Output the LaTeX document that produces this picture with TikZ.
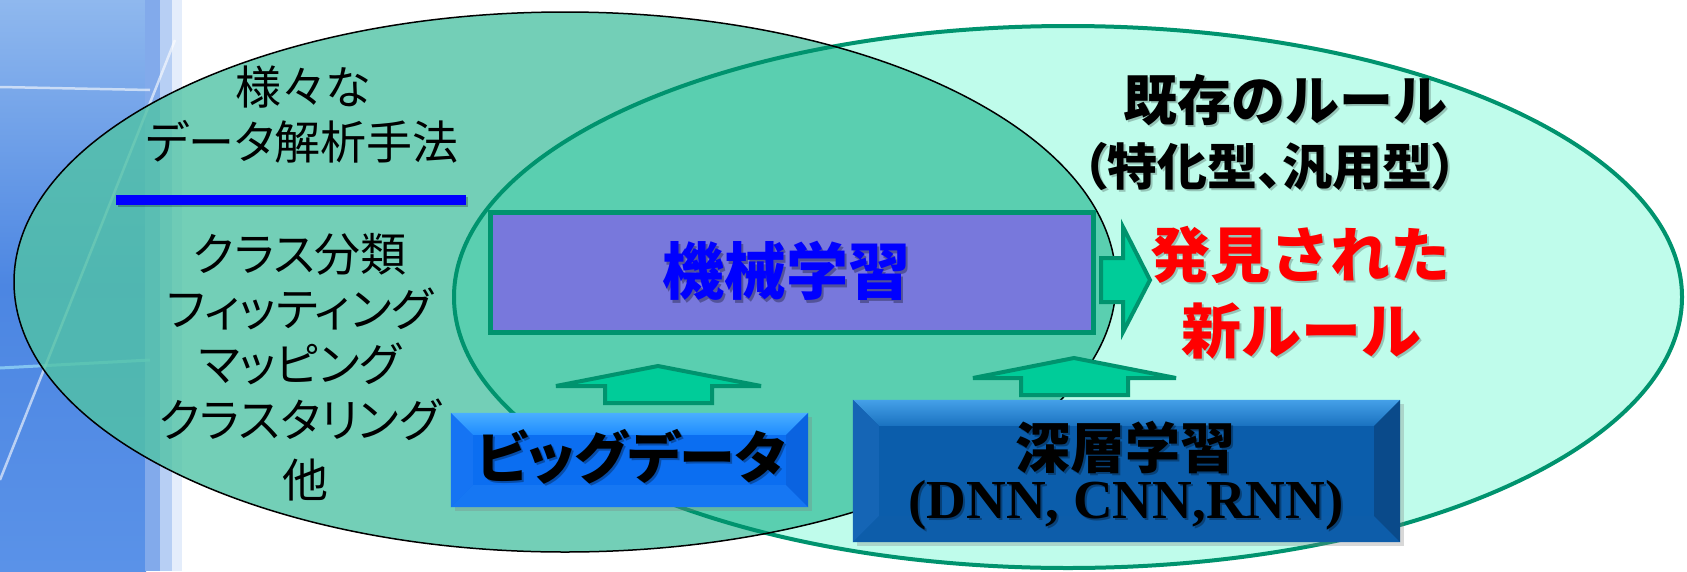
\documentclass[tikz,border=0pt]{standalone}
\usepackage{fontspec}
\setmainfont{Liberation Serif}
\newfontfamily\jp{Noto Sans CJK JP}[RawFeature=+palt]
\newfontfamily\jpm{Noto Sans CJK JP}
\usetikzlibrary{calc,shadows}
\definecolor{bgtop}{HTML}{8FB8EE}
\definecolor{bgblue}{HTML}{4C86E2}
\definecolor{bgbot}{HTML}{5A92E8}
\definecolor{lfill}{HTML}{51C3A5}
\definecolor{rfill}{HTML}{BFFCEB}
\definecolor{ofill}{HTML}{5ACFB0}
\definecolor{gline}{HTML}{00936E}
\definecolor{afill}{HTML}{00CC99}
\definecolor{mlfill}{HTML}{7878DC}
\definecolor{bdmain}{HTML}{0B6EF1}
\definecolor{bdtop}{HTML}{4AAFFF}
\definecolor{bdtopin}{HTML}{1E8BFF}
\definecolor{bdleft}{HTML}{1574F3}
\definecolor{bdbot}{HTML}{1677F3}
\definecolor{bdright}{HTML}{0A63E0}
\definecolor{dlmain}{HTML}{0B5DAB}
\definecolor{dltop}{HTML}{45A0E8}
\definecolor{dltopin}{HTML}{1A72C0}
\definecolor{dlleft}{HTML}{1565B5}
\definecolor{dlbot}{HTML}{0D5DAA}
\definecolor{dlright}{HTML}{0A4A8A}
\newcommand\fs[1]{\fontsize{#1}{#1}\selectfont}
% #1 node, #2 bevel size, #3 top outer, #4 top inner, #5 left, #6 bottom, #7 right
\newcommand\bevel[7]{%
  \shade[top color=#3, bottom color=#4] (#1.north west) -- (#1.north east) -- ($(#1.north east)+(-#2,#2)$) -- ($(#1.north west)+(#2,#2)$) -- cycle;
  \fill[#5] (#1.north west) -- ($(#1.north west)+(#2,#2)$) -- ($(#1.south west)+(#2,-#2)$) -- (#1.south west) -- cycle;
  \fill[#6] (#1.south west) -- ($(#1.south west)+(#2,-#2)$) -- ($(#1.south east)+(-#2,-#2)$) -- (#1.south east) -- cycle;
  \fill[#7] (#1.north east) -- (#1.south east) -- ($(#1.south east)+(-#2,-#2)$) -- ($(#1.north east)+(-#2,#2)$) -- cycle;
}
\tikzset{
  arr/.style={fill=afill, draw=gline, line width=4pt, line join=miter},
  lbl/.style={inner sep=0pt, anchor=center},
  lst/.style={lbl, font=\jp\fs{46}},
  shd/.style={lbl, text=black, opacity=0.22},
}
\begin{document}
\begin{tikzpicture}[x=1pt,y=-1pt]
\useasboundingbox (0,0) rectangle (1687,571);
\fill[white] (0,0) rectangle (1687,571);
% background
\shade[top color=bgtop, bottom color=bgbot, middle color=bgblue] (0,0) rectangle (146,571);
\fill[bgblue!70!white] (145,0) rectangle (160,571);
\fill[bgblue!40!white] (159.5,0) rectangle (172,571);
\fill[bgblue!15!white] (171.5,0) rectangle (182,571);
\draw[white, opacity=0.6, line width=2.5pt] (0,87) -- (150,90);
\draw[cyan!40, opacity=0.7, line width=3pt] (0,368) -- (150,360);
\draw[white, opacity=0.6, line width=2.5pt] (175,40) -- (0,480);
% ellipses
\fill[lfill, fill opacity=0.8] (565,282) ellipse [x radius=551pt, y radius=270pt];
\fill[rfill] (1068,297) ellipse [x radius=614pt, y radius=271pt];
\begin{scope}
  \clip (565,282) ellipse [x radius=551pt, y radius=270pt];
  \fill[ofill] (1068,297) ellipse [x radius=614pt, y radius=271pt];
\end{scope}
\draw[gline, line width=4pt] (1068,297) ellipse [x radius=614pt, y radius=271pt];
\draw[black, line width=1.5pt] (565,282) ellipse [x radius=551pt, y radius=270pt];
% left texts
\node[lst] (t1) at (303,87) {様々な};
\node[lst] (t2) at (302,142) {データ解析手法};
\draw[black, opacity=0.25, line width=10pt] (118,202) -- (468,202);
\draw[blue, line width=10pt] (116,200) -- (466,200);
\node[lst] (l1) at (300,254) {クラス分類};
\node[lst] (l2) at (300,309) {フィッティング};
\node[lst] (l3) at (300,364) {マッピング};
\node[lst] (l4) at (300,420) {クラスタリング};
\node[lst] (l5) at (305,480) {他};
% machine learning box
\node[draw=gline, line width=5pt, fill=mlfill, minimum width=603pt, minimum height=120pt, inner sep=0pt] (ml) at (791.5,272) {};
\node[shd, opacity=0.3] at (788.5,273.5) {\jpm\bfseries\fs{62}機械学習};
\node[lbl, text=blue] (mlt) at (786,271) {\jpm\bfseries\fs{62}機械学習};
% right arrow
\draw[arr] (1101,258) -- (1123,258) -- (1123,227) -- (1150,280) -- (1123,332) -- (1123,302) -- (1101,302) -- cycle;
% up arrows
\draw[arr] (605,403) -- (605,386) -- (556,386) -- (658,366) -- (761,386) -- (712,386) -- (712,403) -- cycle;
\draw[arr] (1021,395) -- (1021,378) -- (973,378) -- (1074,358) -- (1176,378) -- (1128,378) -- (1128,395) -- cycle;
% right texts
\node[shd] at (1287,102) {\jpm\bfseries\fs{54}既存のルール};
\node[lbl] (ex1) at (1285,100) {\jpm\bfseries\fs{54}既存のルール};
\node[shd] at (1272,168) {\jp\bfseries\fs{50}（特化型、汎用型）};
\node[lbl] (ex2) at (1270,166) {\jp\bfseries\fs{50}（特化型、汎用型）};
\node[shd] at (1302,257) {\jpm\bfseries\fs{60}発見された};
\node[lbl, text=red] (nr1) at (1300,255) {\jpm\bfseries\fs{60}発見された};
\node[shd] at (1303,333) {\jpm\bfseries\fs{60}新ルール};
\node[lbl, text=red] (nr2) at (1301,331) {\jpm\bfseries\fs{60}新ルール};
% big data box
\node[fill=bdmain, minimum width=357pt, minimum height=94pt, inner sep=0pt, drop shadow={opacity=0.3, shadow xshift=4pt, shadow yshift=-4pt}] (bd) at (629.5,460) {};
\bevel{bd}{22}{bdtop}{bdtopin}{bdleft}{bdbot}{bdright}
\node[shd, opacity=0.3] at (633,459) {\jp\bfseries\fs{56}ビッグデータ};
\node[lbl] (bdt) at (631,457) {\jp\bfseries\fs{56}ビッグデータ};
% deep learning box
\node[fill=dlmain, minimum width=547pt, minimum height=142pt, inner sep=0pt, drop shadow={opacity=0.3, shadow xshift=4pt, shadow yshift=-4pt}] (dl) at (1126.5,471) {};
\bevel{dl}{26}{dltop}{dltopin}{dlleft}{dlbot}{dlright}
\node[shd, opacity=0.3] at (1127,449) {\jpm\bfseries\fs{55}深層学習};
\node[lbl] (dlt1) at (1125,447) {\jpm\bfseries\fs{55}深層学習};
\node[shd, opacity=0.3] at (1128,507) {\bfseries\fs{55}(DNN, CNN,RNN)};
\node[lbl] (dlt2) at (1126,505) {\bfseries\fs{55}(DNN, CNN,RNN)};
\end{tikzpicture}
\end{document}
